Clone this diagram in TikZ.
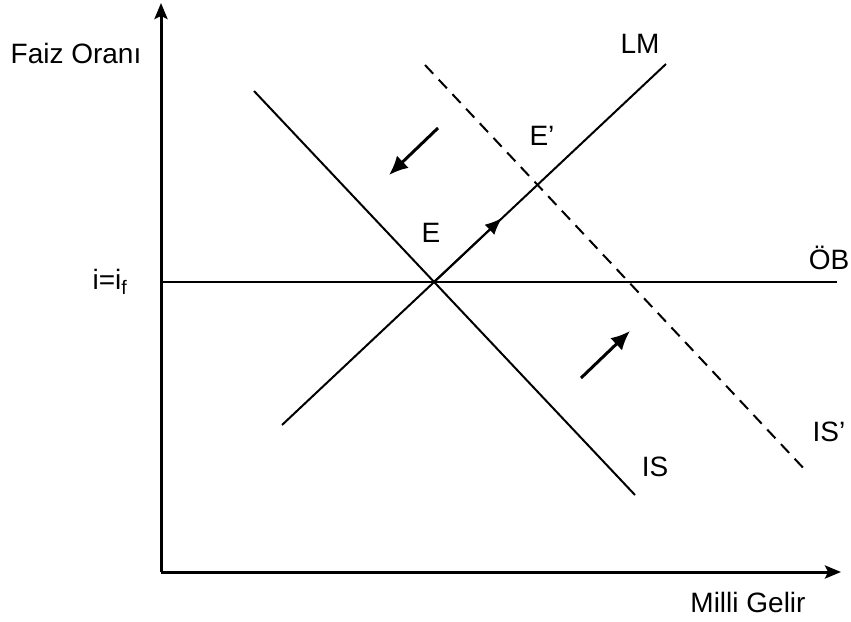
\documentclass[tikz,border=0pt]{standalone}
\usepackage{fontspec}
\setmainfont{Liberation Sans}
\usetikzlibrary{arrows.meta}

\begin{document}
\begin{tikzpicture}[x=1pt,y=-1pt,
  lbl/.style={font=\fontsize{28}{32}\selectfont, inner sep=0pt},
  axis/.style={line width=3pt,-{Stealth[length=16pt,width=13pt,inset=3pt]}},
  curve/.style={line width=2pt},
  shiftarrow/.style={line width=3pt,-{Latex[length=19pt,width=17pt]}}]
  \useasboundingbox (0,0) rectangle (851,621);
  \def\ib{282}

  %Axes
  \coordinate (O) at (161,572);
  \coordinate (ytop) at (161,3);
  \coordinate (xend) at (841,572);
  \draw[axis] (O) -- (ytop);
  \draw[axis] (O) -- (xend);
  \node[lbl] (faiz) at (76,53) {Faiz Oranı};
  \node[lbl] (gelir) at (748,602) {Milli Gelir};

  %Curves
  \coordinate (E) at (434,\ib);
  \coordinate (ob1) at (161,\ib);
  \coordinate (ob2) at (837,\ib);
  \coordinate (is1) at (254,91);
  \coordinate (is2) at (635,495);
  \coordinate (lm1) at (282,425);
  \coordinate (lm2) at (666,64);
  \coordinate (isp1) at (425,65);
  \coordinate (isp2) at (808,473);
  \draw[curve] (ob1) -- (ob2);
  \draw[curve] (is1) -- (is2);
  \draw[curve] (lm1) -- (lm2);
  \draw[curve,dash pattern=on 12pt off 8pt] (isp1) -- (isp2);

  %Shift arrows
  \coordinate (lmtip) at (502,218);
  \draw[line width=2pt,-{Latex[length=17pt,width=14pt]}] (E) -- (lmtip);
  \coordinate (a1s) at (438,128);
  \coordinate (a1e) at (389,175);
  \draw[shiftarrow] (a1s) -- (a1e);
  \coordinate (a2s) at (581,378);
  \coordinate (a2e) at (630,331);
  \draw[shiftarrow] (a2s) -- (a2e);

  %Labels
  \node[lbl] (ilbl) at (110,282) {i=i\textsubscript{f}};
  \node[lbl] (lmlbl) at (640,44) {LM};
  \node[lbl] (eplbl) at (542,136) {E’};
  \node[lbl] (elbl) at (431,233) {E};
  \node[lbl] (oblbl) at (829,258) {ÖB};
  \node[lbl] (islbl) at (655,467) {IS};
  \node[lbl] (isplbl) at (829,432) {IS’};
\end{tikzpicture}
\end{document}
